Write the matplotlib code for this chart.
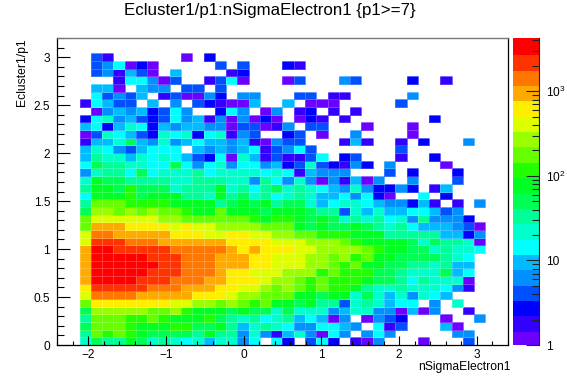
import numpy as np
import matplotlib
matplotlib.use("Agg")
import matplotlib.pyplot as plt
from matplotlib.colors import ListedColormap, LogNorm
from matplotlib.ticker import FixedLocator, NullFormatter

plt.rcParams['font.family'] = ['Liberation Sans', 'DejaVu Sans']
plt.rcParams['mathtext.fontset'] = 'custom'
plt.rcParams['mathtext.rm'] = 'Liberation Sans'

W, H = 567, 384
x_range = (-2.4, 3.4)
y_range = (0.0, 3.2)
max_count = 4270.0
band_colors = ['#6a00ff', '#3300ff', '#0000ff', '#0050ff', '#0090ff', '#00bbff', '#00ffff',
               '#00ffcc', '#00ff99', '#00ff55', '#00ff22', '#22ff00', '#66ff00', '#99ff00',
               '#ddff00', '#ffee00', '#ffaa00', '#ff7700', '#ff3300', '#ff0000']

# Colour-band number of each cell (0 = empty), top row first, 40 columns each
band_rows = [
 [0]*40,
 [0]*40,
 [0,0,0,4,2,0,0,0,0,0,0,1,0,3,0,0,0,0,0,0,0,0,0,0,0,0,0,0,0,0,0,0,0,0,0,0,0,0,0,0],
 [0,0,0,4,5,7,1,3,1,0,0,0,0,0,4,0,4,0,0,0,3,2,0,0,0,0,0,0,0,0,0,0,0,0,0,0,0,0,0,0],
 [0,0,0,4,5,2,6,4,1,0,6,0,0,0,0,2,3,0,0,0,0,0,0,0,0,0,0,0,0,0,0,0,0,0,0,0,0,0,0,0],
 [0,0,0,0,0,2,7,7,5,1,4,0,0,2,4,7,1,0,0,0,1,4,0,0,0,5,4,0,0,0,0,3,0,0,2,0,0,0,0,0],
 [0,0,0,6,6,1,0,6,5,5,0,4,4,0,4,0,0,0,0,0,0,0,0,0,0,0,0,0,0,0,0,0,0,0,0,0,0,0,0,0],
 [0,0,0,7,4,5,4,6,0,2,4,1,1,5,3,0,5,5,0,0,0,4,4,0,2,2,0,0,0,0,0,5,0,0,0,0,0,0,0,0],
 [0,0,2,7,6,4,4,0,6,0,5,0,4,3,2,1,1,6,0,0,6,0,1,1,1,0,0,0,0,0,4,0,0,0,0,0,0,0,0,0],
 [0,0,0,1,5,6,5,6,3,4,7,5,0,0,3,7,5,0,1,5,0,2,3,0,2,0,2,0,0,0,0,0,0,0,0,0,0,0,0,0],
 [0,0,3,7,8,5,6,4,3,4,7,5,6,2,5,1,5,1,3,1,0,1,3,2,0,2,0,0,0,0,0,0,0,3,0,0,0,0,0,0],
 [0,0,6,7,3,6,8,7,3,6,5,6,6,5,5,1,4,4,1,2,5,0,4,4,0,0,0,1,0,0,0,1,0,0,0,0,0,0,0,0],
 [0,0,1,4,8,7,6,4,3,8,7,8,3,7,8,2,5,4,0,0,3,4,0,1,0,0,5,0,0,0,0,1,0,0,0,0,0,0,0,0],
 [0,0,2,6,6,8,10,6,5,8,5,6,7,6,6,5,6,2,1,5,4,4,0,0,0,2,6,2,0,0,2,0,3,0,0,0,5,0,0,0],
 [0,0,6,8,7,5,4,6,7,7,7,0,6,5,6,5,6,7,2,4,5,7,4,0,0,0,0,0,0,0,4,0,0,0,0,0,0,0,0,0],
 [0,0,6,9,8,8,6,8,7,8,7,6,4,3,7,1,8,6,2,4,2,2,4,7,0,3,4,0,0,0,2,0,0,3,0,0,0,0,0,0],
 [0,0,7,10,9,9,8,8,7,7,10,7,5,7,8,5,7,7,5,6,3,4,8,4,3,2,5,3,0,5,0,0,0,0,1,0,0,0,0,0],
 [0,0,5,8,9,9,7,10,7,8,8,8,9,7,8,8,8,8,7,8,7,2,6,5,5,5,0,0,0,4,0,3,0,0,0,3,0,0,0,0],
 [0,0,8,11,10,10,9,9,9,9,8,8,9,9,9,8,8,5,9,7,5,8,5,1,5,2,6,1,5,0,0,5,0,0,0,4,0,0,0,0],
 [0,0,9,11,11,10,12,10,10,10,8,9,9,9,11,8,9,7,9,10,8,9,8,7,6,5,8,5,3,3,5,3,0,2,6,0,0,0,0,0],
 [0,0,7,11,11,11,12,10,11,11,11,9,9,8,11,9,10,8,9,7,8,9,8,6,6,7,5,7,3,1,0,0,7,0,3,0,0,0,0,0],
 [0,0,9,13,13,13,12,12,12,12,11,11,11,11,9,10,11,10,11,9,10,10,8,6,7,8,8,7,6,5,5,3,6,2,0,2,0,5,0,0],
 [0,0,10,14,14,13,14,13,14,13,13,12,11,11,13,11,11,11,10,11,11,11,10,9,9,4,8,6,8,6,6,7,7,6,4,5,0,0,0,0],
 [0,0,13,15,15,15,15,15,15,14,14,13,13,13,13,13,13,12,11,12,12,11,10,11,10,8,9,8,9,7,8,5,9,5,5,5,3,0,0,0],
 [0,0,13,17,17,17,16,16,16,16,15,16,15,15,14,14,14,14,13,13,13,11,10,11,10,10,11,10,9,8,9,7,6,6,6,5,4,1,0,0],
 [0,0,15,18,18,17,17,17,17,17,16,16,16,15,15,16,16,15,15,14,14,13,13,12,12,12,11,11,11,9,9,9,9,9,6,6,3,5,0,0],
 [0,0,15,19,19,19,18,18,18,17,17,17,17,17,17,16,16,16,16,15,15,15,14,14,14,13,12,11,11,11,11,10,8,10,9,9,8,1,0,0],
 [0,0,17,20,20,19,19,19,19,19,18,18,18,18,18,17,16,17,16,16,16,15,15,14,14,14,14,13,12,11,11,10,10,8,9,8,8,7,0,0],
 [0,0,17,20,20,20,20,20,19,19,19,18,18,18,17,17,17,16,16,15,15,15,14,14,13,14,12,13,11,11,10,10,10,10,9,8,7,0,0,0],
 [0,0,17,20,20,20,20,20,20,19,19,18,18,18,17,17,17,16,16,15,15,15,14,14,13,12,13,11,11,10,10,9,9,8,9,6,6,0,0,0],
 [0,0,17,20,20,20,20,20,19,19,19,18,18,18,17,16,16,15,15,15,14,14,14,12,13,12,12,12,10,10,9,8,8,8,10,6,7,0,0,0],
 [0,0,17,20,20,20,20,19,19,19,18,18,18,17,17,16,16,16,15,14,14,13,12,13,12,12,12,11,10,10,9,7,9,8,8,8,1,0,0,0],
 [0,0,16,19,19,19,19,19,18,18,18,17,17,17,16,16,15,15,14,13,14,13,12,13,12,12,11,9,8,8,9,8,8,8,7,5,2,0,0,0],
 [0,0,15,18,18,18,18,17,17,17,17,17,16,16,16,15,14,14,13,13,13,11,11,10,11,11,8,10,8,6,8,5,8,7,6,0,0,0,0,0],
 [0,0,13,16,16,16,16,16,16,16,15,15,14,14,13,14,13,12,13,11,11,10,11,9,9,4,8,9,8,6,7,7,0,5,0,8,0,0,0,0],
 [0,0,10,14,14,14,14,14,13,13,14,12,11,11,11,10,11,10,10,8,10,8,8,8,5,6,8,8,5,5,1,6,1,5,0,0,2,0,0,0],
 [0,0,9,13,13,13,12,12,13,12,11,11,11,12,10,9,8,9,7,8,9,6,7,6,1,5,0,1,5,4,3,0,0,0,1,0,0,5,0,0],
 [0,0,10,13,13,13,12,11,11,11,12,12,10,10,11,9,6,8,9,8,7,5,5,7,7,6,5,0,7,2,4,0,0,0,6,1,0,0,0,0],
 [0,0,9,13,12,13,12,11,10,10,10,10,9,11,9,9,5,8,5,2,6,8,5,1,7,5,0,5,7,5,0,0,0,0,0,5,5,0,0,0],
 [0,0,8,10,9,9,11,10,8,9,8,7,8,6,8,8,5,7,0,7,3,0,4,7,3,0,2,1,5,0,0,0,1,0,0,0,4,0,0,0],
]

x_ticks = [-2, -1, 0, 1, 2, 3]
y_ticks = [0, 0.5, 1, 1.5, 2, 2.5, 3]
y_tick_labels = ['0', '0.5', '1', '1.5', '2', '2.5', '3']
bar_ticks = [1, 10, 100, 1000]
bar_labels = ['1', '10', r'$\mathregular{10^{2}}$', r'$\mathregular{10^{3}}$']

bands = np.array(band_rows, dtype=float)[::-1]
counts = np.ma.masked_where(bands == 0, max_count ** ((bands - 0.5) / 20))
x_edges = np.linspace(*x_range, 41)
y_edges = np.linspace(*y_range, 41)


def box(left, top, right, bottom):
    return [left / W, 1 - bottom / H, (right - left) / W, (bottom - top) / H]


fig = plt.figure(figsize=(W / 100, H / 100), dpi=100, facecolor='white')
ax = fig.add_axes(box(57, 38, 508, 345))
cmap = ListedColormap(band_colors)
norm = LogNorm(1, max_count)
mesh = ax.pcolormesh(x_edges, y_edges, counts, cmap=cmap, norm=norm,
                     edgecolors=(1, 1, 1, 0.22), linewidth=0.5)
ax.set_xlim(x_range)
ax.set_ylim(y_range)
ax.set_xticks(x_ticks)
ax.set_yticks(y_ticks, y_tick_labels)
ax.set_xticks(np.arange(-2.4, 3.41, 0.2), minor=True)
ax.set_yticks(np.arange(0, 3.21, 0.1), minor=True)
ax.tick_params(axis='x', which='major', direction='in', length=6.5, width=0.8, labelsize=8.6, pad=3.2)
ax.tick_params(axis='x', which='minor', direction='in', length=3.2, width=0.8)
ax.tick_params(axis='y', which='major', direction='in', length=9.5, width=0.8, labelsize=8.6, pad=5)
ax.tick_params(axis='y', which='minor', direction='in', length=4.7, width=0.8)
for s in ['left', 'bottom']:
    ax.spines[s].set_linewidth(0.9)
ax.spines['right'].set_linewidth(0.9)
ax.spines['top'].set_linewidth(1.0)
ax.spines['top'].set_color('#777777')

cax = fig.add_axes(box(513, 38, 539, 345))
cb = fig.colorbar(mesh, cax=cax, orientation='vertical')
cb.outline.set_visible(False)
cb.solids.set_edgecolor('face')
cax.yaxis.set_major_locator(FixedLocator(bar_ticks))
cax.set_yticklabels(bar_labels)
minor = [m * d for d in bar_ticks for m in range(2, 10) if m * d <= max_count]
cax.yaxis.set_minor_locator(FixedLocator(minor))
cax.yaxis.set_minor_formatter(NullFormatter())
cax.tick_params(axis='y', which='major', direction='in', length=9.5, width=0.8, labelsize=8.6, pad=5, color='#222222')
cax.tick_params(axis='y', which='minor', direction='in', length=5, width=0.8, color='#222222')
cax.spines['right'].set_visible(True)
cax.spines['right'].set_linewidth(0.8)
cax.spines['right'].set_color('#222222')

fig.text(270 / W, 1 - 10.5 / H, 'Ecluster1/p1:nSigmaElectron1 {p1>=7}', fontsize=12.2,
         ha='center', va='center')
fig.text(511 / W, 1 - 367 / H, 'nSigmaElectron1', fontsize=8.7, ha='right', va='center')
fig.text(22 / W, 1 - 38 / H, 'Ecluster1/p1', fontsize=8.7, rotation=90, ha='center', va='top')

fig.savefig('out.png', dpi=100)
